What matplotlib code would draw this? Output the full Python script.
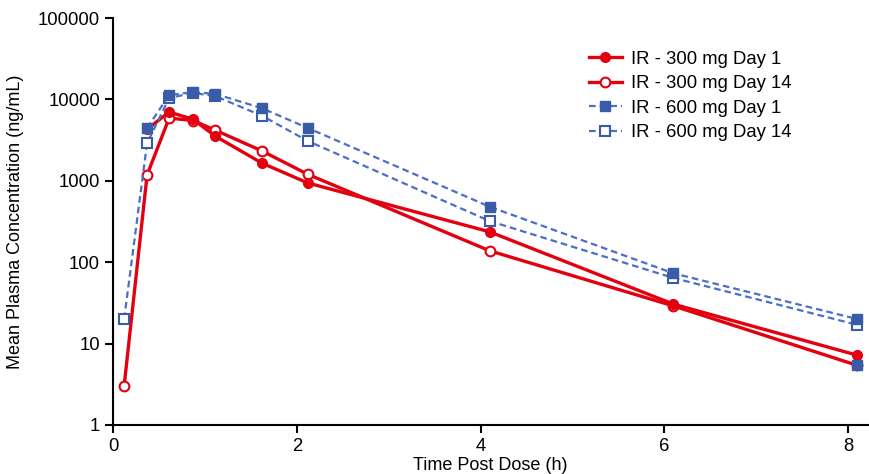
import numpy as np
import matplotlib
matplotlib.use('Agg')
import matplotlib.pyplot as plt
from matplotlib.ticker import FixedLocator, NullLocator

# time points (h)
time_day1 = [0.37, 0.61, 0.87, 1.11, 1.62, 2.12, 4.1, 6.1, 8.1]
time_day14 = [0.12, 0.37, 0.61, 0.87, 1.11, 1.62, 2.12, 4.1, 6.1, 8.1]

# mean plasma concentrations (ng/mL)
ir300_day1 = [4300, 7000, 5700, 3550, 1650, 940, 236, 30.5, 7.2]
ir300_day14 = [3.0, 1180, 5900, 5500, 4200, 2330, 1200, 138, 29, 5.4]
ir600_day1 = [4450, 11300, 12300, 11700, 7800, 4450, 480, 73, 20]
ir600_day14 = [20, 2900, 10400, 12000, 11000, 6300, 3080, 320, 64, 17]

# stray marker drawn on the original
stray_x = [8.1]
stray_y = [5.4]

plt.rcParams['font.family'] = ['Liberation Sans', 'DejaVu Sans']

red = '#E3000F'
blue_mk = '#3A5BA8'
blue_ln = '#4A6FC4'

fig = plt.figure(figsize=(8.7, 4.74), dpi=100)
ax = fig.add_axes([0.130, 0.1034, 0.868, 0.8586])

ax.plot(time_day14, ir300_day14, color=red, lw=2.4, marker='o', ms=7,
        mfc='white', mec=red, mew=1.5, label='IR - 300 mg Day 14', zorder=3)
ax.plot(time_day1, ir300_day1, color=red, lw=2.4, marker='o', ms=7,
        mfc=red, mec=red, label='IR - 300 mg Day 1', zorder=3)
ax.plot(time_day14, ir600_day14, color=blue_ln, lw=1.6, ls=(0, (3, 1.8)),
        marker='s', ms=7, mfc='white', mec=blue_mk, mew=1.5,
        label='IR - 600 mg Day 14', zorder=4)
ax.plot(time_day1, ir600_day1, color=blue_ln, lw=1.6, ls=(0, (3, 1.8)),
        marker='s', ms=7, mfc=blue_mk, mec=blue_mk,
        label='IR - 600 mg Day 1', zorder=4)
ax.plot(stray_x, stray_y, ls='none', marker='s', ms=7, mfc=blue_mk,
        mec=blue_mk, zorder=5)

ax.set_yscale('log')
ax.set_ylim(1, 100000)
ax.set_xlim(0, 8.22)
ax.yaxis.set_major_locator(FixedLocator([1, 10, 100, 1000, 10000, 100000]))
ax.yaxis.set_minor_locator(NullLocator())
ax.set_yticklabels(['1', '10', '100', '1000', '10000', '100000'])
ax.set_xticks([0, 2, 4, 6, 8])

for s in ['top', 'right']:
    ax.spines[s].set_visible(False)
for s in ['left', 'bottom']:
    ax.spines[s].set_linewidth(1.5)
ax.tick_params(axis='both', labelsize=13.3, width=1.5, length=6, direction='out')

ax.set_ylabel('Mean Plasma Concentration (ng/mL)', fontsize=13, labelpad=10)
ax.set_xlabel('Time Post Dose (h)', fontsize=13, labelpad=1)

handles, labels = ax.get_legend_handles_labels()
order = [1, 0, 3, 2]
ax.legend([handles[i] for i in order], [labels[i] for i in order],
          loc='upper left', bbox_to_anchor=(0.608, 0.96), frameon=False,
          fontsize=13.3, handlelength=1.8, labelspacing=0.4, handletextpad=0.5)

fig.savefig('out.png', dpi=100)
